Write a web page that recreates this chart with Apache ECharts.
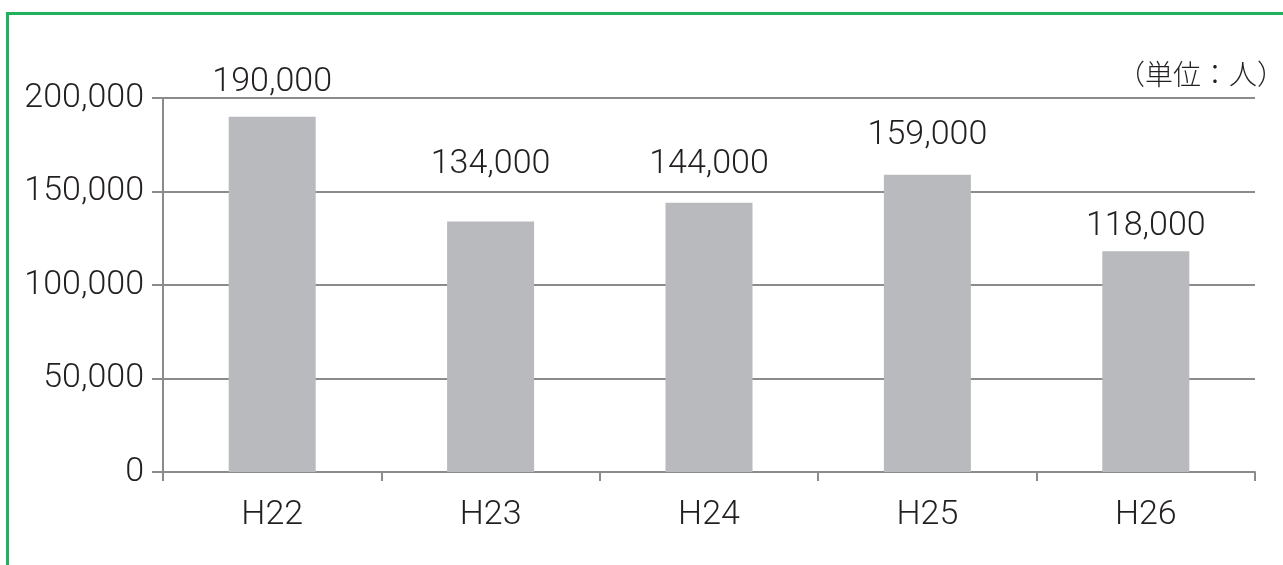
<!DOCTYPE html>
<html>
<head>
<meta charset="utf-8">
<title>H22–H26 人数</title>
<script src="https://cdn.jsdelivr.net/npm/echarts@6/dist/echarts.min.js"></script>
<style>
  html, body { margin: 0; padding: 0; background: #ffffff; }
  #chart { width: 1283px; height: 565px; }
</style>
</head>
<body>
<div id="chart"></div>
<script>
// Fiscal years (Heisei) and head counts
const categories = ['H22', 'H23', 'H24', 'H25', 'H26'];
const values = [190000, 134000, 144000, 159000, 118000];
const yTicks = [0, 50000, 100000, 150000, 200000];
const unitText = '（単位：人）';

// gap between each bar top and its value label
const labelGap = [17, 40, 21, 22, 8];

const TEXT = '#231f20';
const AXIS = '#8b8b8e';
const FONT = 'Roboto, "Liberation Sans", sans-serif';
const SIZE = 34;

const fmt = v => v.toLocaleString('en-US');

const chart = echarts.init(document.getElementById('chart'), null, { renderer: 'canvas' });

chart.setOption({
  animation: false,
  backgroundColor: '#ffffff',
  grid: { left: 163, right: 28, top: 98, bottom: 93, containLabel: false },
  xAxis: {
    type: 'category',
    data: categories,
    boundaryGap: true,
    axisLine: { show: true, lineStyle: { color: AXIS, width: 2 } },
    axisTick: { show: true, length: 9, alignWithLabel: false, lineStyle: { color: AXIS, width: 2 } },
    axisLabel: { color: TEXT, fontSize: SIZE, fontWeight: 300, fontFamily: FONT, margin: 26 },
    splitLine: { show: false }
  },
  yAxis: {
    type: 'value',
    min: yTicks[0],
    max: yTicks[yTicks.length - 1],
    interval: yTicks[1] - yTicks[0],
    axisLine: { show: true, lineStyle: { color: AXIS, width: 2 } },
    axisTick: { show: true, length: 11, lineStyle: { color: AXIS, width: 2 } },
    axisLabel: { color: TEXT, fontSize: SIZE, fontWeight: 300, fontFamily: FONT, margin: 19, formatter: v => fmt(v) },
    splitLine: { show: true, lineStyle: { color: AXIS, width: 2 } }
  },
  series: [{
    type: 'bar',
    barWidth: 87,
    itemStyle: { color: '#b9babd' },
    label: {
      show: true,
      position: 'top',
      color: TEXT,
      fontSize: SIZE,
      fontWeight: 300,
      fontFamily: FONT,
      lineHeight: 34,
      formatter: p => fmt(p.value)
    },
    data: values.map((v, i) => ({ value: v, label: { distance: labelGap[i] } }))
  }],
  graphic: [
    {
      type: 'polyline',
      silent: true,
      shape: { points: [[7.5, 565], [7.5, 13.5], [1283, 13.5]] },
      style: { stroke: '#1fb25c', lineWidth: 3, fill: null }
    },
    {
      type: 'text',
      silent: true,
      style: {
        x: 1285,
        y: 74,
        text: unitText,
        textAlign: 'right',
        textVerticalAlign: 'middle',
        fill: TEXT,
        font: '300 28px "Noto Sans CJK JP", sans-serif'
      }
    }
  ]
});
</script>
</body>
</html>
